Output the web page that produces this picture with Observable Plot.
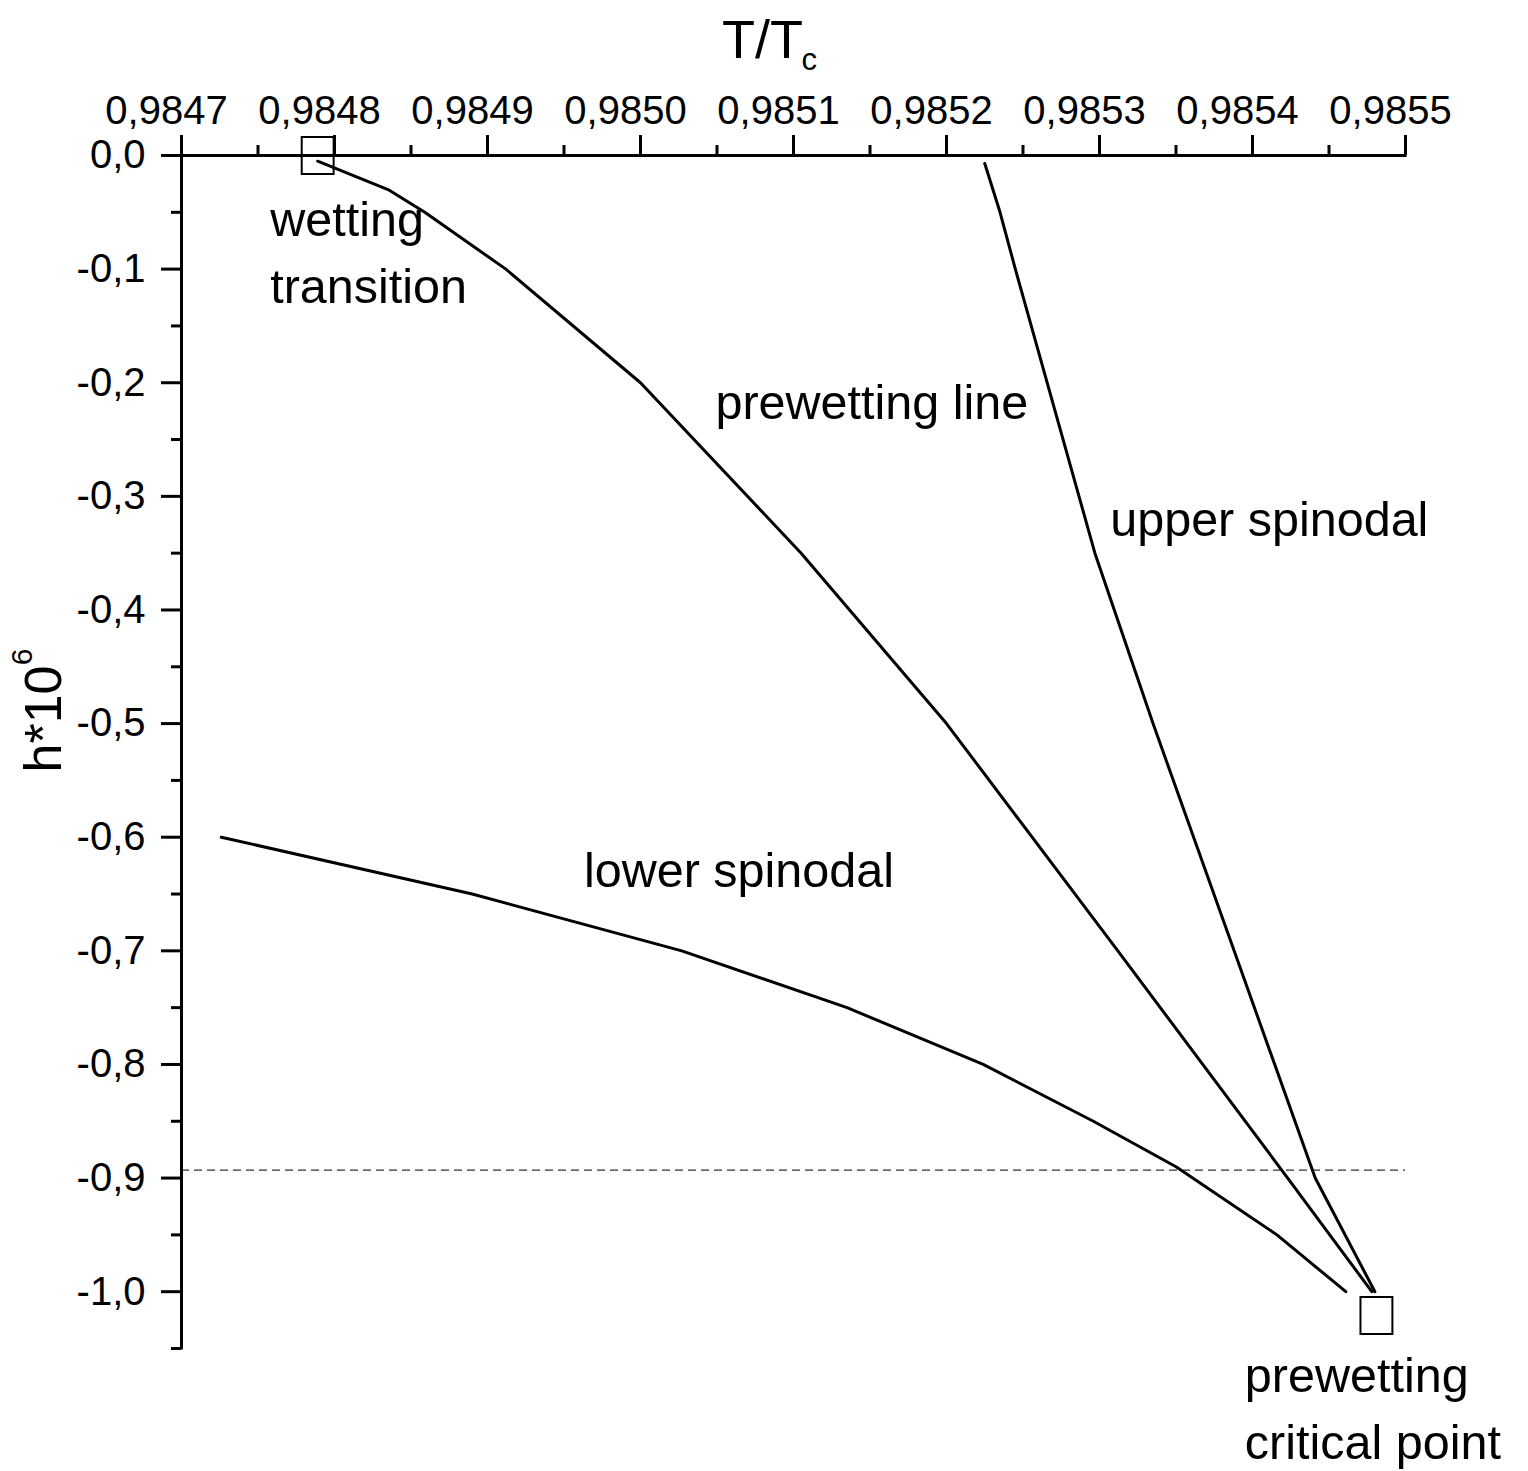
<!DOCTYPE html>
<html>
<head>
<meta charset="utf-8">
<script src="https://cdn.jsdelivr.net/npm/d3@7"></script>
<script src="https://cdn.jsdelivr.net/npm/@observablehq/plot@0.6"></script>
<style>
  html, body { margin: 0; padding: 0; background: #fff; }
  #chart { width: 1528px; height: 1471px; }
</style>
</head>
<body>
<div id="chart"></div>
<script>
// ---- data ----
const prewettingT = [0.984789, 0.984835, 0.984859, 0.984912, 0.985000, 0.985105, 0.985200, 0.985312, 0.985423, 0.985478];
const prewettingH = [-0.005, -0.03, -0.05, -0.1, -0.2, -0.35, -0.5, -0.7, -0.9, -1.0];

const upperT = [0.985225, 0.985235, 0.985245, 0.985297, 0.985335, 0.985388, 0.985441, 0.985480];
const upperH = [-0.007, -0.05, -0.1, -0.35, -0.5, -0.7, -0.9, -1.0];

const lowerT = [0.984726, 0.984890, 0.985027, 0.985135, 0.985224, 0.985296, 0.985350, 0.985416, 0.985461];
const lowerH = [-0.6, -0.65, -0.7, -0.75, -0.8, -0.85, -0.89, -0.95, -1.0];

const markerT = [0.984789, 0.985481];
const markerH = [0, -1.021];

const dashedH = [-0.893];

const xTicks = [0.9847, 0.9848, 0.9849, 0.9850, 0.9851, 0.9852, 0.9853, 0.9854, 0.9855];
const xMinorTicks = [0.98475, 0.98485, 0.98495, 0.98505, 0.98515, 0.98525, 0.98535, 0.98545];
const yTicks = [0, -0.1, -0.2, -0.3, -0.4, -0.5, -0.6, -0.7, -0.8, -0.9, -1.0];
const yMinorTicks = [-0.05, -0.15, -0.25, -0.35, -0.45, -0.55, -0.65, -0.75, -0.85, -0.95, -1.05];

const annotationText = ["wetting\ntransition", "prewetting line", "upper spinodal", "lower spinodal", "prewetting\ncritical point"];
const annotationT = [0.984758, 0.985049, 0.985307, 0.984963, 0.985395];
const annotationH = [-0.1295, -0.2317, -0.3348, -0.644, -1.147];

// ---- build tables ----
const toRows = (T, H) => T.map((t, i) => ({t, h: H[i]}));
const prewetting = toRows(prewettingT, prewettingH);
const upper = toRows(upperT, upperH);
const lower = toRows(lowerT, lowerH);
const markers = toRows(markerT, markerH);
const annotations = annotationText.map((s, i) => ({s, t: annotationT[i], h: annotationH[i]}));

const rectSymbol = {
  draw(context, size) {
    const r = Math.sqrt(size / Math.PI);
    const w = r * 0.84, h = r * 0.97;
    context.rect(-w, -h, 2 * w, 2 * h);
  }
};

const fmtX = d => d.toFixed(4).replace(".", ",");
const fmtY = d => d.toFixed(1).replace(".", ",");
const FONT = "'Liberation Sans', Arial, Helvetica, sans-serif";
const xMin = 0.9847, xMax = 0.9855, yMin = -1.05, yMax = 0;

const chart = Plot.plot({
  width: 1528,
  height: 1471,
  marginLeft: 181,
  marginRight: 123,
  marginTop: 155,
  marginBottom: 123,
  style: {fontFamily: FONT, fontSize: "40px", background: "#fff", color: "#000"},
  x: {domain: [xMin, xMax], axis: null},
  y: {domain: [yMin, yMax], axis: null},
  marks: [
    // dashed reference line
    Plot.ruleY(dashedH, {stroke: "#333", strokeWidth: 1.3, strokeDasharray: "8,5"}),
    // axes lines
    Plot.ruleY([yMax], {stroke: "#000", strokeWidth: 3, strokeLinecap: "square"}),
    Plot.ruleX([xMin], {stroke: "#000", strokeWidth: 3, strokeLinecap: "square"}),
    // x axis ticks (top, outward)
    Plot.ruleX(xTicks, {y1: yMax, y2: yMax, insetTop: -20, stroke: "#000", strokeWidth: 3}),
    Plot.ruleX(xMinorTicks, {y1: yMax, y2: yMax, insetTop: -10, stroke: "#000", strokeWidth: 3}),
    Plot.axisX(xTicks, {anchor: "top", tickSize: 0, tickPadding: 32, dx: -15, fontSize: 40, tickFormat: fmtX, label: null, fill: "#000"}),
    // y axis ticks (left, outward)
    Plot.ruleY(yTicks, {x1: xMin, x2: xMin, insetLeft: -20, stroke: "#000", strokeWidth: 3}),
    Plot.ruleY(yMinorTicks, {x1: xMin, x2: xMin, insetLeft: -10, stroke: "#000", strokeWidth: 3}),
    Plot.axisY(yTicks, {anchor: "left", tickSize: 0, tickPadding: 36, fontSize: 40, tickFormat: fmtY, label: null, fill: "#000"}),
    // curves
    Plot.line(prewetting, {x: "t", y: "h", stroke: "#000", strokeWidth: 3}),
    Plot.line(upper, {x: "t", y: "h", stroke: "#000", strokeWidth: 3}),
    Plot.line(lower, {x: "t", y: "h", stroke: "#000", strokeWidth: 3}),
    // special points
    Plot.dot(markers, {x: "t", y: "h", symbol: rectSymbol, r: 19, stroke: "#000", strokeWidth: 2, fill: "none"}),
    // annotations
    Plot.text(annotations, {x: "t", y: "h", text: "s", textAnchor: "start", lineAnchor: "bottom", lineHeight: 1.37, fontSize: 48.5, fill: "#000"}),
    // axis titles
    Plot.text(["T/T"], {frameAnchor: "top", dx: -31, dy: -98, textAnchor: "middle", lineAnchor: "bottom", fontSize: 54, fill: "#000"}),
    Plot.text(["c"], {frameAnchor: "top", dx: 8, dy: -86, textAnchor: "start", lineAnchor: "bottom", fontSize: 31, fill: "#000"}),
    Plot.text(["h*10"], {frameAnchor: "left", dx: -121, dy: -33, rotate: -90, textAnchor: "middle", lineAnchor: "bottom", fontSize: 52, fill: "#000"}),
    Plot.text(["6"], {frameAnchor: "left", dx: -150, dy: -95, rotate: -90, textAnchor: "middle", lineAnchor: "bottom", fontSize: 30, fill: "#000"})
  ]
});

document.getElementById("chart").appendChild(chart);
</script>
</body>
</html>
